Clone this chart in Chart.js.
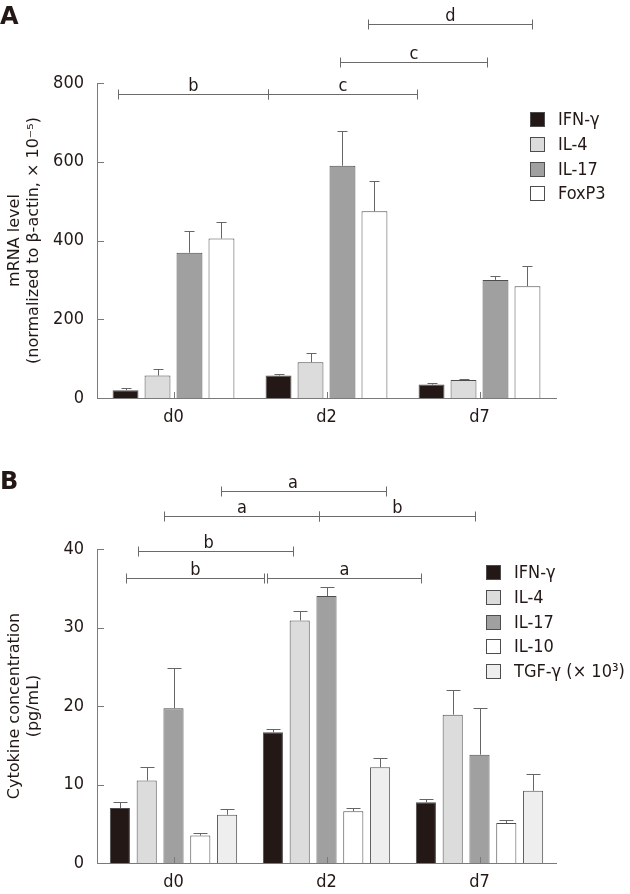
<!DOCTYPE html>
<html>
<head>
<meta charset="utf-8">
<script src="https://cdn.jsdelivr.net/npm/chart.js@4.4.1/dist/chart.umd.min.js"></script>
<style>
  body { margin: 0; background: #fff; width: 630px; height: 894px; position: relative; overflow: hidden; }
  canvas { position: absolute; left: 0; }
  #chartA { top: 0; }
  #chartB { top: 430px; }
</style>
</head>
<body>
<canvas id="chartA" width="630" height="430"></canvas>
<canvas id="chartB" width="630" height="464"></canvas>
<script>
// categories
const days = ["d0", "d2", "d7"];

// panel A - mRNA level
const mrnaTicks = [0, 200, 400, 600, 800];
const mrnaIFN = [20, 57, 34];
const mrnaIFNErr = [5, 5, 5];
const mrnaIL4 = [57, 91, 46];
const mrnaIL4Err = [16, 24, 3];
const mrnaIL17 = [369, 590, 300];
const mrnaIL17Err = [56, 88, 11];
const mrnaFoxP3 = [405, 474, 284];
const mrnaFoxP3Err = [41, 78, 52];
// significance brackets (x in category index units, y in data units)
const mrnaBrackets = [
  { from: -0.36, to: 0.62, y: 771, label: "b" },
  { from: 0.62, to: 1.59, y: 771, label: "c" },
  { from: 1.09, to: 2.05, y: 853, label: "c" },
  { from: 1.27, to: 2.34, y: 950, label: "d" },
];

// panel B - cytokine concentration
const cytoTicks = [0, 10, 20, 30, 40];
const cytoIFN = [7.0, 16.65, 7.73];
const cytoIFNErr = [0.8, 0.4, 0.4];
const cytoIL4 = [10.5, 30.9, 18.9];
const cytoIL4Err = [1.7, 1.15, 3.2];
const cytoIL17 = [19.7, 34.0, 13.8];
const cytoIL17Err = [5.2, 1.15, 6.0];
const cytoIL10 = [3.5, 6.6, 5.1];
const cytoIL10Err = [0.3, 0.4, 0.4];
const cytoTGF = [6.15, 12.2, 9.2];
const cytoTGFErr = [0.7, 1.2, 2.15];
const cytoBrackets = [
  { from: -0.31, to: 0.59, y: 36.3, label: "b" },
  { from: 0.61, to: 1.62, y: 36.3, label: "a" },
  { from: -0.23, to: 0.78, y: 39.8, label: "b", at: 0.23 },
  { from: -0.06, to: 0.95, y: 44.15, label: "a" },
  { from: 0.95, to: 1.97, y: 44.15, label: "b" },
  { from: 0.31, to: 1.39, y: 47.45, label: "a", at: 0.78 },
];

const FONT = "DejaVu Sans";
const NARROW = "'DejaVu Sans Condensed', 'DejaVu Sans'";
const INK = "#231815";
const LINE = "#7a7a7a";
const BORDER = "#4d4d4d";

Chart.defaults.font.family = FONT;
Chart.defaults.font.size = 16;
Chart.defaults.color = INK;
Chart.defaults.animation = false;

// error bars: line up from the bar top plus a cap
function makeErrorBars(capHalf) {
  return {
    id: "errorBars",
    afterDatasetsDraw(chart) {
      const ctx = chart.ctx;
      const y = chart.scales.y;
      ctx.save();
      ctx.strokeStyle = "#666666";
      ctx.lineWidth = 1;
      chart.data.datasets.forEach((ds, i) => {
        const meta = chart.getDatasetMeta(i);
        meta.data.forEach((bar, j) => {
          const top = Math.round(y.getPixelForValue(ds.data[j] + ds.errors[j])) + 0.5;
          const x = Math.round(bar.x) + 0.5;
          ctx.beginPath();
          ctx.moveTo(x, bar.y);
          ctx.lineTo(x, top);
          ctx.moveTo(x - capHalf, top);
          ctx.lineTo(x + capHalf, top);
          ctx.stroke();
        });
      });
      ctx.restore();
    },
  };
}

// inward tick marks, brackets, legend and panel letter
function makeExtras(cfg) {
  return {
    id: "extras",
    afterDraw(chart) {
      const ctx = chart.ctx;
      const xs = chart.scales.x;
      const ys = chart.scales.y;
      const area = chart.chartArea;
      ctx.save();
      ctx.strokeStyle = LINE;
      ctx.lineWidth = 1;
      ys.ticks.forEach((t, i) => {
        const py = Math.round(ys.getPixelForTick(i)) + 0.5;
        ctx.beginPath();
        ctx.moveTo(area.left, py);
        ctx.lineTo(area.left + 7, py);
        ctx.stroke();
      });
      xs.ticks.forEach((t, i) => {
        const px = Math.round(xs.getPixelForTick(i)) + 0.5;
        ctx.beginPath();
        ctx.moveTo(px, area.bottom);
        ctx.lineTo(px, area.bottom - 6);
        ctx.stroke();
      });

      // brackets
      ctx.font = "18px " + NARROW;
      ctx.textAlign = "center";
      ctx.textBaseline = "alphabetic";
      cfg.brackets.forEach((b) => {
        const x1 = Math.round(xs.getPixelForValue(b.from)) + 0.5;
        const x2 = Math.round(xs.getPixelForValue(b.to)) + 0.5;
        const py = Math.round(ys.getPixelForValue(b.y)) + 0.5;
        ctx.strokeStyle = "#6a6a6a";
        ctx.beginPath();
        ctx.moveTo(x1, py - 5);
        ctx.lineTo(x1, py + 5);
        ctx.moveTo(x2, py - 5);
        ctx.lineTo(x2, py + 5);
        ctx.moveTo(x1, py);
        ctx.lineTo(x2, py);
        ctx.stroke();
        const lx = typeof b.at === "number" ? xs.getPixelForValue(b.at) : (x1 + x2) / 2;
        ctx.fillStyle = INK;
        ctx.fillText(b.label, lx, py - 4);
      });

      // legend
      const lg = cfg.legend;
      ctx.font = "18px " + NARROW;
      ctx.textAlign = "left";
      ctx.textBaseline = "middle";
      chart.data.datasets.forEach((ds, i) => {
        const cy = Math.round(lg.y + i * lg.step);
        ctx.fillStyle = ds.backgroundColor;
        ctx.fillRect(lg.x, cy - 7, 15, 15);
        ctx.strokeStyle = BORDER;
        ctx.strokeRect(lg.x + 0.5, cy - 6.5, 14, 14);
        ctx.fillStyle = INK;
        ctx.fillText(ds.label, lg.x + 28, cy + 1);
      });

      // panel letter
      ctx.font = "bold 24px " + FONT;
      ctx.textBaseline = "alphabetic";
      ctx.fillText(cfg.letter, 0, cfg.letterY);
      ctx.restore();
    },
  };
}

function makeDataset(label, data, errors, color) {
  return {
    label: label,
    data: data,
    errors: errors,
    backgroundColor: color,
    borderColor: BORDER,
    borderWidth: 1,
  };
}

function makeChart(canvasId, datasets, cfg) {
  return new Chart(document.getElementById(canvasId), {
    type: "bar",
    data: { labels: days, datasets: datasets },
    options: {
      responsive: false,
      maintainAspectRatio: false,
      devicePixelRatio: 1,
      categoryPercentage: cfg.catPct,
      barPercentage: cfg.barPct,
      layout: { padding: { left: 0, right: 74, top: cfg.top, bottom: 0 } },
      plugins: {
        legend: { display: false },
        tooltip: { enabled: false },
      },
      scales: {
        x: {
          grid: { display: false, drawTicks: false },
          border: { color: LINE, width: 1 },
          ticks: { padding: 9, font: { size: 18, family: NARROW } },
          afterFit: (s) => { s.height = cfg.xHeight; },
        },
        y: {
          min: 0,
          max: cfg.max,
          grid: { display: false, drawTicks: false },
          border: { color: LINE, width: 1 },
          afterBuildTicks: (s) => { s.ticks = cfg.ticks.map((v) => ({ value: v })); },
          ticks: { padding: 13, font: { size: 18, family: NARROW } },
          title: { display: true, text: cfg.title, padding: { top: 5, bottom: 0 }, font: { size: 16 } },
          afterFit: (s) => { s.width = 97; },
        },
      },
    },
    plugins: [makeErrorBars(cfg.cap), makeExtras(cfg)],
  });
}

makeChart("chartA", [
  makeDataset("IFN-γ", mrnaIFN, mrnaIFNErr, "#231816"),
  makeDataset("IL-4", mrnaIL4, mrnaIL4Err, "#dcdcdc"),
  makeDataset("IL-17", mrnaIL17, mrnaIL17Err, "#a0a0a0"),
  makeDataset("FoxP3", mrnaFoxP3, mrnaFoxP3Err, "#ffffff"),
], {
  catPct: 0.836, barPct: 0.81, top: 83, xHeight: 32, max: 800, ticks: mrnaTicks, cap: 5,
  title: ["mRNA level", "(normalized to β-actin, × 10⁻⁵)"],
  brackets: mrnaBrackets, legend: { x: 530, y: 119, step: 24.8 }, letter: "A", letterY: 24,
});

makeChart("chartB", [
  makeDataset("IFN-γ", cytoIFN, cytoIFNErr, "#231816"),
  makeDataset("IL-4", cytoIL4, cytoIL4Err, "#dcdcdc"),
  makeDataset("IL-17", cytoIL17, cytoIL17Err, "#a0a0a0"),
  makeDataset("IL-10", cytoIL10, cytoIL10Err, "#ffffff"),
  makeDataset("TGF-γ (× 10³)", cytoTGF, cytoTGFErr, "#eeeeee"),
], {
  catPct: 0.876, barPct: 0.75, top: 119, xHeight: 31, max: 40, ticks: cytoTicks, cap: 7,
  title: ["Cytokine concentration", "(pg/mL)"],
  brackets: cytoBrackets, legend: { x: 486, y: 142, step: 24.8 }, letter: "B", letterY: 59,
});
</script>
</body>
</html>
